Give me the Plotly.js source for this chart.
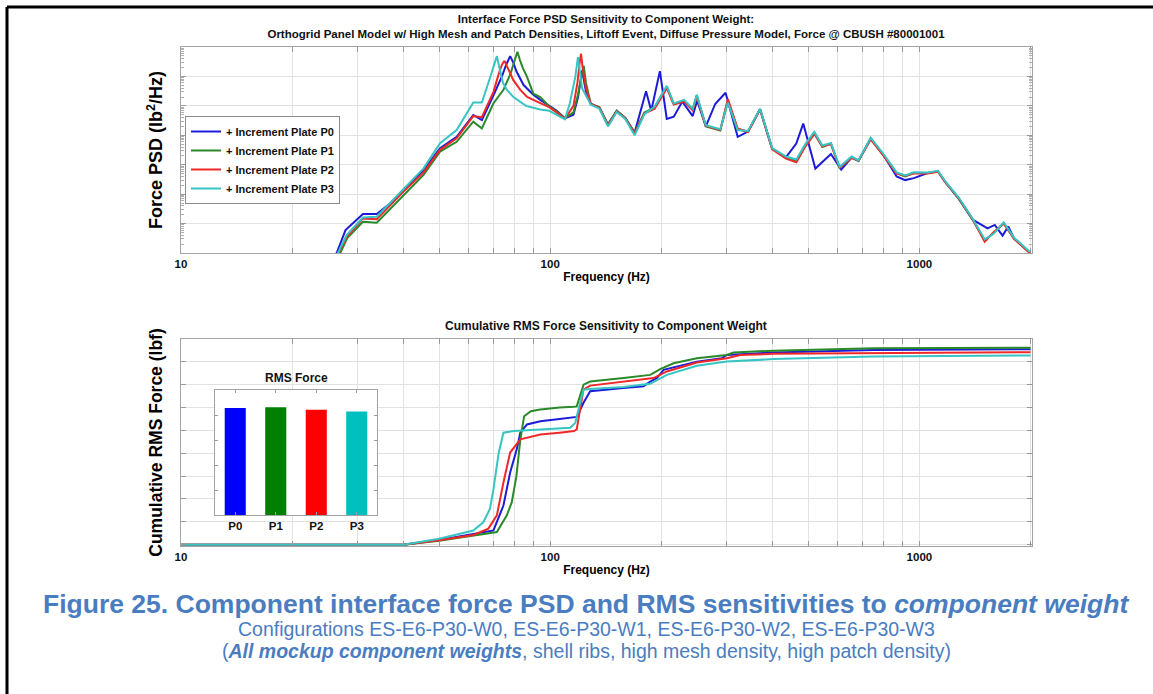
<!DOCTYPE html>
<html><head><meta charset="utf-8">
<script src="https://cdn.plot.ly/plotly-3.0.1.min.js"></script>
<style>html,body{margin:0;padding:0;background:#fff;}#chart{width:1153px;height:694px;}</style>
</head><body><div id="chart"></div>
<script>
// ---------------- DATA ----------------
const seriesNames = ['+ Increment Plate P0', '+ Increment Plate P1', '+ Increment Plate P2', '+ Increment Plate P3'];
const barLabels = ['P0', 'P1', 'P2', 'P3'];
const rmsForce = [8.55, 8.62, 8.42, 8.28];
const freqTickLabels = ['10', '100', '1000'];

// Force PSD (lb^2/Hz) vs frequency (Hz)
const freqP0 = [25, 26.4, 27.9, 31.1, 33.9, 36.9, 40.0, 45.4, 50.3, 55.8, 61.9, 65.3, 70.2, 74, 76, 77.9, 79.5, 81, 84.7, 90, 94, 99.4, 104, 109.6, 115.6, 119, 121, 122, 123.5, 125, 128.8, 135.9, 143.4, 151.4, 159.7, 169.3, 181.8, 187.8, 198.2, 206.9, 216.1, 228, 243.2, 250, 264, 279.8, 298.5, 322, 343.4, 370.2, 399.2, 435.3, 464, 484.6, 522.6, 576, 614, 655.4, 684, 737.9, 795.8, 867.6, 915.3, 966, 1053, 1123, 1173, 1279, 1394, 1450, 1530, 1600, 1680, 1740, 1805, 1989];
const psdP0 = [3e-5, 1e-4, 6e-4, 2.1e-3, 2.1e-3, 4.9e-3, 1.38e-2, 6.6e-2, 0.36, 0.89, 4.9, 3.3, 23, 100, 250, 490, 290, 150, 51, 24, 16, 10, 7, 3.8, 5, 20, 90, 160, 70, 30, 11.6, 8.9, 2.3, 6.8, 3.9, 1.23, 31.5, 6.8, 151, 3.6, 4.3, 14, 4.5, 15, 2.0, 11.6, 28, 0.89, 1.34, 7.7, 0.35, 0.18, 0.52, 2.5, 0.074, 0.23, 0.068, 0.176, 0.134, 0.78, 0.23, 0.040, 0.030, 0.035, 0.052, 0.060, 0.0265, 0.0069, 1.36e-3, 1.03e-3, 6.9e-4, 9e-4, 3.9e-4, 8e-4, 3.1e-4, 1.05e-4];

const freqP1 = [25, 27.0, 28.2, 31.1, 33.9, 36.9, 40.0, 45.4, 50.3, 55.8, 61.9, 65.3, 70.2, 74.7, 78.0, 80.0, 81.5, 82.8, 84.5, 86.5, 90.0, 94.0, 99.4, 104, 109.6, 115.6, 119, 121.5, 123.3, 125, 128.8, 135.9, 143.4, 151.4, 159.7, 169.3, 179.9, 191.9, 206.9, 216.1, 230.5, 243.2, 249.5, 263.9, 288.9, 302.9, 321.9, 343.4, 370.2, 399.2, 435.3, 464.3, 490, 519.3, 545.8, 576, 607.9, 655.4, 684, 737.9, 795.8, 867.6, 915.3, 966, 1053, 1123, 1173, 1279, 1394, 1503, 1585, 1692, 1805, 1989];
const psdP1 = [2.5e-5, 1.0e-4, 3.2e-4, 1.15e-3, 1.07e-3, 3.2e-3, 9.3e-3, 4.5e-2, 0.28, 0.60, 2.9, 1.7, 12.3, 35, 120, 330, 690, 360, 180, 98, 26, 20, 9.5, 6.5, 3.8, 6, 25, 100, 230, 60, 11.6, 8.9, 2.3, 6.8, 3.9, 1.23, 5.9, 8.9, 45, 11.6, 15, 7.7, 23, 2.0, 1.45, 15, 1.6, 1.34, 7.7, 0.35, 0.18, 0.134, 0.45, 1.23, 0.40, 0.52, 0.078, 0.176, 0.134, 0.78, 0.23, 0.052, 0.040, 0.052, 0.052, 0.060, 0.0265, 0.0069, 1.36e-3, 2.7e-4, 4.6e-4, 1.03e-3, 3.1e-4, 1.05e-4];

const freqP2 = [25, 26.7, 28.1, 31.1, 33.9, 36.9, 40.0, 45.4, 50.3, 55.8, 61.9, 65.3, 70.2, 72.5, 74, 75.2, 76.8, 79.4, 83, 86.6, 94, 99.4, 104, 109.6, 115.6, 118.5, 120.2, 121.2, 122.4, 125, 128.8, 135.9, 143.4, 151.4, 159.7, 169.3, 179.9, 191.9, 206.9, 216.1, 230.5, 243.2, 249.5, 263.9, 288.9, 302.9, 321.9, 343.4, 370.2, 399.2, 435.3, 464.3, 490, 519.3, 545.8, 576, 607.9, 655.4, 684, 737.9, 795.8, 867.6, 915.3, 966, 1053, 1123, 1173, 1279, 1394, 1503, 1585, 1692, 1805, 1989];
const psdP2 = [2.8e-5, 1e-4, 3.5e-4, 1.5e-3, 1.4e-3, 4.2e-3, 1.2e-2, 5.5e-2, 0.32, 0.79, 4.5, 4.1, 30, 120, 250, 340, 200, 76, 35, 20, 12.3, 9, 6, 3.6, 10, 60, 300, 590, 200, 40, 12, 8.5, 2.2, 6.5, 3.8, 1.15, 5.5, 8, 40, 11, 14, 7, 21, 2.1, 1.5, 17, 1.7, 1.3, 7.5, 0.33, 0.16, 0.12, 0.40, 1.1, 0.42, 0.5, 0.08, 0.17, 0.14, 0.72, 0.22, 0.05, 0.042, 0.05, 0.05, 0.058, 0.026, 0.0072, 1.4e-3, 2.4e-4, 5e-4, 1.0e-3, 3e-4, 1.0e-4];

const freqP3 = [25, 26.6, 28.1, 31.1, 33.9, 36.9, 40.0, 45.4, 50.3, 55.8, 61.9, 65.3, 68.5, 70.3, 71.7, 73.2, 74.5, 76.3, 79.5, 86, 94, 99.4, 104, 109.6, 113, 117, 118.9, 120.5, 122, 128.8, 135.9, 143.4, 151.4, 159.7, 169.3, 179.9, 191.9, 206.9, 216.1, 230.5, 243.2, 249.5, 263.9, 288.9, 302.9, 321.9, 343.4, 370.2, 399.2, 435.3, 464.3, 490, 519.3, 545.8, 576, 607.9, 655.4, 684, 737.9, 795.8, 867.6, 915.3, 966, 1053, 1123, 1173, 1279, 1394, 1503, 1585, 1692, 1805, 1989];
const psdP3 = [3e-5, 1e-4, 4.1e-4, 1.6e-3, 1.7e-3, 5e-3, 1.38e-2, 7.5e-2, 0.54, 1.5, 12.9, 12.9, 80, 250, 490, 150, 60, 35, 20, 10, 7.5, 6.8, 5, 3.5, 12, 100, 450, 120, 40, 11, 8.0, 2.0, 6.2, 3.6, 1.0, 5.2, 9.5, 48, 12, 16, 8, 24, 2.2, 1.6, 13, 1.5, 1.4, 7.9, 0.37, 0.19, 0.15, 0.48, 1.3, 0.45, 0.55, 0.085, 0.19, 0.14, 0.82, 0.25, 0.055, 0.043, 0.055, 0.054, 0.062, 0.028, 0.0075, 1.45e-3, 2.9e-4, 4.4e-4, 1.1e-3, 3.3e-4, 1.1e-4];

// Cumulative RMS force (lbf) vs frequency (Hz)
const cumFreqP0 = [10, 40, 50, 61.9, 70.2, 74.7, 77.9, 81.2, 83, 86.5, 94, 106, 118, 123, 128.3, 158, 179, 186.6, 194.6, 202.8, 249.7, 291.7, 301, 402.7, 751, 2000];
const cumRmsP0 = [0, 0, 0.2, 0.45, 0.62, 1.71, 3.16, 4.18, 4.9, 5.26, 5.4, 5.5, 5.59, 6.2, 6.71, 6.85, 6.93, 7.14, 7.29, 7.65, 8.01, 8.16, 8.30, 8.41, 8.52, 8.55];
const cumFreqP1 = [10, 40, 50, 61.9, 71.7, 76.3, 78.7, 81, 83, 85, 88.6, 94, 106, 115.7, 118, 123.1, 128.3, 158, 186.6, 198.6, 215.8, 249.7, 301, 313.8, 402.7, 751, 2000];
const cumRmsP1 = [0, 0, 0.17, 0.38, 0.55, 1.28, 1.86, 3.0, 4.6, 5.62, 5.84, 5.91, 6.0, 6.03, 6.05, 7.0, 7.14, 7.29, 7.43, 7.68, 7.94, 8.16, 8.30, 8.41, 8.49, 8.59, 8.62];
const cumFreqP2 = [10, 40, 50, 61.9, 68, 71.7, 74.7, 77.9, 83, 94, 106, 116, 118, 123, 128.3, 158, 190.5, 207, 249.7, 301, 327, 402.7, 2000];
const cumRmsP2 = [0, 0, 0.19, 0.42, 0.7, 1.28, 2.72, 4.03, 4.61, 4.82, 4.9, 4.97, 5.04, 6.78, 6.96, 7.14, 7.29, 7.58, 7.97, 8.16, 8.30, 8.35, 8.42];
const cumFreqP3 = [10, 40, 50, 61.9, 65.9, 68.7, 70.2, 72.5, 74.7, 79.5, 94, 106, 113.3, 116.9, 123, 128.3, 158, 186.6, 207, 249.7, 301, 402.7, 751, 2000];
const cumRmsP3 = [0, 0, 0.26, 0.62, 0.98, 1.57, 2.43, 4.0, 4.9, 4.97, 5.04, 5.09, 5.12, 5.33, 6.78, 6.81, 6.90, 7.04, 7.43, 7.83, 8.01, 8.12, 8.23, 8.28];

const lineColors = ['#1c1cd8', '#2a8a2a', '#f02828', '#36c4c4'];
const barColors = ['#0000ff', '#007f00', '#ff0000', '#00bfbf'];

// ---------------- LAYOUT HELPERS ----------------
const W = 1153, H = 694;
const px = x => x / W;
const py = y => 1 - y / H;
const FONT = 'Liberation Sans, Arial, sans-serif';
const CAP = '#4a7dbf';

// log-axis ticks: labelled decades, unlabelled minor grid (20..90, 200..900, 2000)
const xMajor = freqTickLabels.map(Number);
const xMinor = [];
xMajor.forEach(d => { for (let m = 2; m <= 9; m++) { if (m * d <= 2000) xMinor.push(m * d); } });
const yMinor = [];
for (let e = -4; e < 3; e++) for (let m = 2; m <= 9; m++) yMinor.push(m * Math.pow(10, e));

const tickFont = {family: FONT, size: 11.5, weight: 'bold', color: '#111'};
const baseAx = {
  showline: true, linecolor: '#a3a3a3', linewidth: 1, mirror: 'ticks',
  ticks: 'inside', ticklen: 5, tickcolor: '#9a9a9a',
  gridcolor: '#e2e2e2', gridwidth: 1, zeroline: false, tickfont: tickFont
};
const freqAx = {
  type: 'log', range: [1, 3.305], tickmode: 'array', tickvals: xMajor, ticktext: freqTickLabels,
  minor: {tickmode: 'array', tickvals: xMinor, ticks: 'inside', ticklen: 5, tickcolor: '#9a9a9a',
          showgrid: true, gridcolor: '#e2e2e2', gridwidth: 1},
  title: {text: 'Frequency (Hz)', font: {family: FONT, size: 12, weight: 'bold'}, standoff: 3}
};

const freqSeries = [freqP0, freqP1, freqP2, freqP3];
const psdSeries = [psdP0, psdP1, psdP2, psdP3];
const cumFreqSeries = [cumFreqP0, cumFreqP1, cumFreqP2, cumFreqP3];
const cumRmsSeries = [cumRmsP0, cumRmsP1, cumRmsP2, cumRmsP3];

const traces = [];
for (let i = 0; i < 4; i++) {
  traces.push({
    type: 'scatter', mode: 'lines', x: freqSeries[i], y: psdSeries[i],
    xaxis: 'x', yaxis: 'y', name: seriesNames[i],
    line: {color: lineColors[i], width: 2}
  });
}
for (let i = 0; i < 4; i++) {
  traces.push({
    type: 'scatter', mode: 'lines', x: cumFreqSeries[i], y: cumRmsSeries[i],
    xaxis: 'x2', yaxis: 'y2', name: seriesNames[i], showlegend: false,
    line: {color: lineColors[i], width: 2}
  });
}
traces.push({
  type: 'bar', x: barLabels, y: rmsForce, xaxis: 'x3', yaxis: 'y3',
  marker: {color: barColors, line: {width: 0}}, width: 0.52, showlegend: false
});

const layout = {
  width: W, height: H, margin: {l: 0, r: 0, t: 0, b: 0},
  paper_bgcolor: '#ffffff', plot_bgcolor: '#ffffff',
  font: {family: FONT, color: '#000'},
  title: {
    text: 'Interface Force PSD Sensitivity to Component Weight:<br>Orthogrid Panel Model w/ High Mesh and Patch Densities, Liftoff Event, Diffuse Pressure Model, Force @ CBUSH #80001001',
    font: {family: FONT, size: 11.5, weight: 'bold', color: '#111'},
    xref: 'paper', x: px(606), xanchor: 'center',
    yref: 'paper', y: py(23), yanchor: 'top'
  },
  showlegend: true,
  legend: {
    x: px(185), y: py(116), xanchor: 'left', yanchor: 'top',
    bgcolor: '#ffffff', bordercolor: '#8c8c8c', borderwidth: 1,
    font: {family: FONT, size: 11, weight: 'bold', color: '#111'},
    itemwidth: 30, tracegroupgap: 0
  },
  xaxis: Object.assign({}, baseAx, freqAx, {domain: [px(181), px(1032)], anchor: 'y'}),
  yaxis: Object.assign({}, baseAx, {
    domain: [py(253), py(47)], anchor: 'x', type: 'log', range: [-4, 3],
    dtick: 1, showticklabels: false,
    minor: {tickmode: 'array', tickvals: yMinor, ticks: 'inside', ticklen: 3, tickcolor: '#b0b0b0', showgrid: false},
    title: {text: 'Force PSD (lb<sup>2</sup>/Hz)', font: {family: FONT, size: 18, weight: 'bold'}, standoff: 12}
  }),
  xaxis2: Object.assign({}, baseAx, freqAx, {domain: [px(181), px(1032)], anchor: 'y2'}),
  yaxis2: Object.assign({}, baseAx, {
    domain: [py(546), py(339)], anchor: 'x2', range: [-0.06, 9], tick0: 0, dtick: 1,
    showticklabels: false,
    title: {text: 'Cumulative RMS Force (lbf)', font: {family: FONT, size: 17.5, weight: 'bold'}, standoff: 12}
  }),
  xaxis3: Object.assign({}, baseAx, {
    domain: [px(215), px(377)], anchor: 'y3', range: [-0.5, 3.5], showgrid: false,
    ticklen: 3
  }),
  yaxis3: Object.assign({}, baseAx, {
    domain: [py(515), py(390)], anchor: 'x3', range: [0, 10], dtick: 2,
    showgrid: false, showticklabels: false, ticklen: 3
  }),
  shapes: [
    // white background behind the inset bar chart
    {type: 'rect', xref: 'x3', yref: 'y3', x0: -0.5, x1: 3.5, y0: 0, y1: 10,
     fillcolor: '#ffffff', line: {width: 0}, layer: 'below'},
    // page frame
    {type: 'line', xref: 'paper', yref: 'paper', x0: px(7), x1: 1, y0: py(7), y1: py(7),
     line: {color: '#000', width: 3}},
    {type: 'line', xref: 'paper', yref: 'paper', x0: px(7), x1: px(7), y0: py(7), y1: 0,
     line: {color: '#000', width: 3}}
  ],
  annotations: [
    {text: '<b>Cumulative RMS Force Sensitivity to Component Weight</b>', xref: 'paper', yref: 'paper',
     x: px(606), y: py(326), xanchor: 'center', yanchor: 'middle', showarrow: false,
     font: {family: FONT, size: 12, color: '#111'}},
    {text: '<b>RMS Force</b>', xref: 'paper', yref: 'paper',
     x: px(296), y: py(378), xanchor: 'center', yanchor: 'middle', showarrow: false,
     font: {family: FONT, size: 12, color: '#111'}},
    {text: '<b>Figure 25. Component interface force PSD and RMS sensitivities to <i>component weight</i></b>',
     xref: 'paper', yref: 'paper', x: px(586), y: py(604), xanchor: 'center', yanchor: 'middle',
     showarrow: false, font: {family: FONT, size: 26.5, color: CAP}},
    {text: 'Configurations ES-E6-P30-W0, ES-E6-P30-W1, ES-E6-P30-W2, ES-E6-P30-W3',
     xref: 'paper', yref: 'paper', x: px(586), y: py(629), xanchor: 'center', yanchor: 'middle',
     showarrow: false, font: {family: FONT, size: 19.5, color: CAP}},
    {text: '(<b><i>All mockup component weights</i></b>, shell ribs, high mesh density, high patch density)',
     xref: 'paper', yref: 'paper', x: px(586), y: py(651), xanchor: 'center', yanchor: 'middle',
     showarrow: false, font: {family: FONT, size: 19.5, color: CAP}}
  ]
};

Plotly.newPlot('chart', traces, layout, {displayModeBar: false, staticPlot: true});
</script></body></html>
